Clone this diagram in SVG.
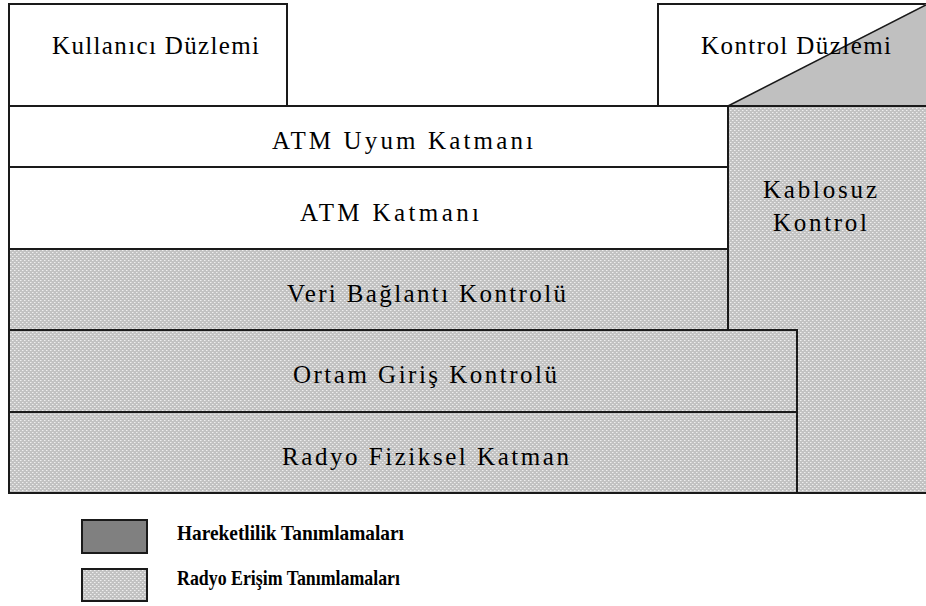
<svg xmlns="http://www.w3.org/2000/svg" width="926" height="606" viewBox="0 0 926 606">
  <defs>
    <!-- fine dotted grey texture used for the radio-access layers -->
    <pattern id="dots" width="4" height="4" patternUnits="userSpaceOnUse">
      <rect width="4" height="4" fill="#c2c2c2"/>
      <rect x="0" y="0" width="1" height="1" fill="#eeeeee"/>
      <rect x="2" y="2" width="1" height="1" fill="#eeeeee"/>
      <rect x="1" y="0" width="1" height="1" fill="#d8d8d8"/>
      <rect x="3" y="2" width="1" height="1" fill="#d8d8d8"/>
    </pattern>
    <style>
      .box { stroke: #1a1a1a; stroke-width: 2; }
      .plain { fill: #ffffff; }
      .radio { fill: url(#dots); }
      .label { font-family: "Liberation Serif", "Times New Roman", serif; font-size: 25px; fill: #000000; }
      .legend { font-family: "Liberation Serif", "Times New Roman", serif; font-size: 22px; font-weight: bold; fill: #000000; }
    </style>
  </defs>

  <rect width="926" height="606" fill="#ffffff"/>

  <!-- user plane header -->
  <g id="kullanici-duzlemi">
    <rect class="box plain" x="9" y="4" width="278" height="102"/>
    <text class="label" x="52" y="54" textLength="207" lengthAdjust="spacing">Kullanıcı Düzlemi</text>
  </g>

  <!-- wireless control column -->
  <g id="kablosuz-kontrol">
    <rect class="box radio" x="728" y="106" width="210" height="387"/>
    <text class="label" x="763" y="198" textLength="114" lengthAdjust="spacing">Kablosuz</text>
    <text class="label" x="773" y="231" textLength="94" lengthAdjust="spacing">Kontrol</text>
  </g>

  <!-- control plane header with mobility wedge -->
  <g id="kontrol-duzlemi">
    <rect class="box plain" x="658" y="4" width="280" height="102"/>
    <polygon points="728,106 926,4 926,106" fill="#c0c0c0"/>
    <line x1="728" y1="106" x2="926" y2="5" stroke="#1a1a1a" stroke-width="1.5"/>
    <line x1="728" y1="106" x2="926" y2="106" stroke="#1a1a1a" stroke-width="2"/>
    <text class="label" x="701" y="54" textLength="190" lengthAdjust="spacing">Kontrol Düzlemi</text>
  </g>

  <!-- protocol layers -->
  <g id="atm-uyum-katmani">
    <rect class="box plain" x="9" y="106" width="719" height="61"/>
    <text class="label" x="272" y="149" textLength="261" lengthAdjust="spacing">ATM Uyum Katmanı</text>
  </g>

  <g id="atm-katmani">
    <rect class="box plain" x="9" y="167" width="719" height="82"/>
    <text class="label" x="300" y="221" textLength="179" lengthAdjust="spacing">ATM Katmanı</text>
  </g>

  <g id="veri-baglanti-kontrolu">
    <rect class="box radio" x="9" y="249" width="719" height="81"/>
    <text class="label" x="287" y="302" textLength="279" lengthAdjust="spacing">Veri Bağlantı Kontrolü</text>
  </g>

  <g id="ortam-giris-kontrolu">
    <rect class="box radio" x="9" y="330" width="788" height="82"/>
    <text class="label" x="293" y="383" textLength="264" lengthAdjust="spacing">Ortam Giriş Kontrolü</text>
  </g>

  <g id="radyo-fiziksel-katman">
    <rect class="box radio" x="9" y="412" width="788" height="81"/>
    <text class="label" x="282" y="465" textLength="287" lengthAdjust="spacing">Radyo Fiziksel Katman</text>
  </g>

  <!-- legend -->
  <g id="legend-hareketlilik">
    <rect class="box" x="82" y="520" width="65" height="33" fill="#808080"/>
    <text class="legend" x="177" y="540" textLength="227" lengthAdjust="spacingAndGlyphs">Hareketlilik Tanımlamaları</text>
  </g>

  <g id="legend-radyo">
    <rect class="box radio" x="82" y="569" width="65" height="32"/>
    <text class="legend" x="177" y="585" textLength="223" lengthAdjust="spacingAndGlyphs">Radyo Erişim Tanımlamaları</text>
  </g>
</svg>
